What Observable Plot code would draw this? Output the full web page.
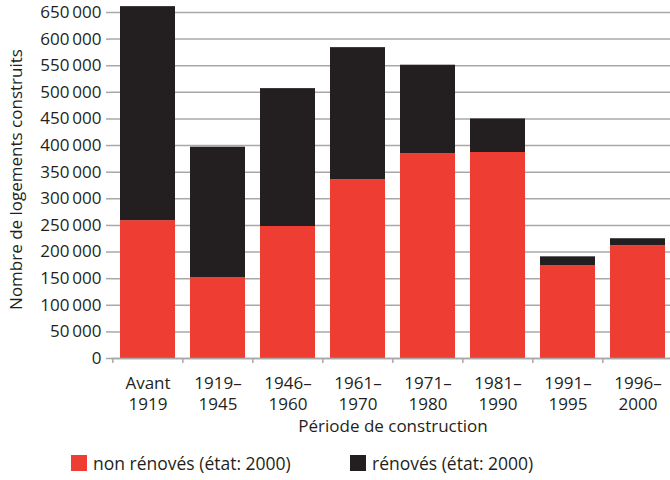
<!DOCTYPE html>
<html>
<head>
<meta charset="utf-8">
<script src="https://cdn.jsdelivr.net/npm/d3@7"></script>
<script src="https://cdn.jsdelivr.net/npm/@observablehq/plot@0.6"></script>
<style>
  html, body { margin: 0; padding: 0; background: #fff; }
  body { width: 670px; height: 480px; overflow: hidden; font-family: "Open Sans", sans-serif; color: #231f20; }
  #legend { position: relative; height: 34px; font-size: 17.5px; }
  .item { position: absolute; top: 0; display: flex; align-items: center; height: 34px; }
  .sw { width: 16px; height: 16px; margin-right: 6px; }
</style>
</head>
<body>
<div id="chart"></div>
<div id="legend"></div>
<script>
const periods = ["Avant 1919", "1919–1945", "1946–1960", "1961–1970", "1971–1980", "1981–1990", "1991–1995", "1996–2000"];
const periodLabels = ["Avant\n1919", "1919–\n1945", "1946–\n1960", "1961–\n1970", "1971–\n1980", "1981–\n1990", "1991–\n1995", "1996–\n2000"];
const nonRenoves = [259000, 152000, 248000, 336000, 385000, 387000, 174000, 212000];
const totals = [661000, 397000, 507000, 584000, 551000, 450000, 191000, 225000];
const seriesNames = ["non rénovés (état: 2000)", "rénovés (état: 2000)"];
const seriesColors = ["#ee3d33", "#231f20"];
const yTicks = d3.range(0, 650001, 50000);
const yTitle = "Nombre de logements construits";
const xTitle = "Période de construction";

const data = [];
periods.forEach((p, i) => {
  data.push({period: p, type: seriesNames[0], value: nonRenoves[i]});
  data.push({period: p, type: seriesNames[1], value: totals[i] - nonRenoves[i]});
});

const fmt = d => d3.format(",")(d).replace(/,/g, "\u2009");
const grid = "#a8a8a8";
const step = (674 - 111) / periods.length;

const chart = Plot.plot({
  width: 670,
  height: 446,
  marginLeft: 111,
  marginRight: -4,
  marginTop: 12,
  marginBottom: 88,
  style: {fontFamily: "'Open Sans', sans-serif", fontSize: "17px", color: "#231f20", background: "#fff"},
  x: {type: "band", domain: periods, paddingInner: 0.22, paddingOuter: 0.11, axis: null},
  y: {domain: [0, 650000], axis: null},
  color: {domain: seriesNames, range: seriesColors},
  marks: [
    Plot.gridY(yTicks, {stroke: grid, strokeOpacity: 1, strokeWidth: 1.5}),
    Plot.barY(data, {x: "period", y: "value", fill: "type", order: seriesNames}),
    Plot.ruleY([0], {stroke: grid, strokeWidth: 1.5}),
    Plot.axisY({ticks: yTicks, tickSize: 5, tickPadding: 5, tickFormat: fmt, stroke: grid, strokeWidth: 1.5, fill: "#231f20", label: null}),
    Plot.axisX({tickSize: 5, tickFormat: () => "", dx: -step / 2, stroke: grid, strokeWidth: 1.5, label: null}),
    Plot.text(periods, {x: d => d, text: (d, i) => periodLabels[i], frameAnchor: "bottom", lineAnchor: "middle", dy: 34, lineHeight: 1.29, fill: "#231f20"}),
    Plot.text([xTitle], {frameAnchor: "bottom", lineAnchor: "middle", dy: 68, fill: "#231f20"}),
    Plot.text([yTitle], {frameAnchor: "left", textAnchor: "middle", lineAnchor: "middle", rotate: -90, dx: -95, dy: -6, fill: "#231f20"})
  ]
});
document.getElementById("chart").appendChild(chart);

const legend = document.getElementById("legend");
const lefts = [71, 350];
seriesNames.forEach((name, i) => {
  const item = document.createElement("div");
  item.className = "item";
  item.style.left = lefts[i] + "px";
  const sw = document.createElement("span");
  sw.className = "sw";
  sw.style.background = seriesColors[i];
  const t = document.createElement("span");
  t.textContent = name;
  item.appendChild(sw);
  item.appendChild(t);
  legend.appendChild(item);
});
</script>
</body>
</html>
